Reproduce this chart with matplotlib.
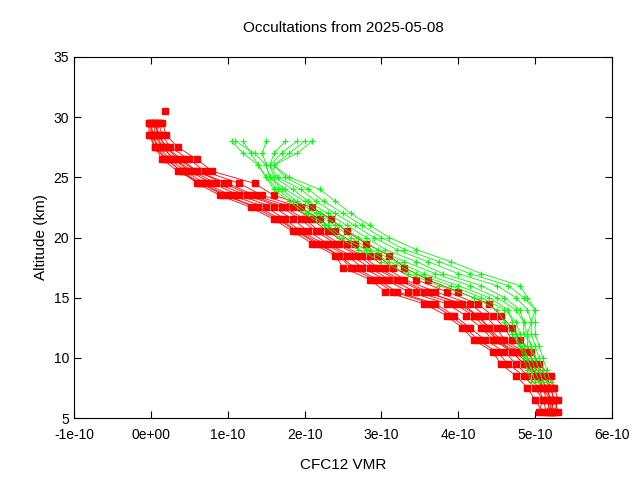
import matplotlib
matplotlib.use("Agg")
import matplotlib.pyplot as plt
import numpy as np

plt.rcParams["font.family"] = "Liberation Sans"

# altitude grids (km)
red_alt = [5.5,6.5,7.5,8.5,9.5,10.5,11.5,12.5,13.5,14.5,15.5,16.5,17.5,18.5,19.5,20.5,21.5,22.5,23.5,24.5,25.5,26.5,27.5,28.5,29.5]
# red profiles, VMR in units of 1e-10
red_profiles = [
 [5.10,5.00,4.90,4.75,4.55,4.45,4.20,4.05,3.85,3.55,3.05,2.85,2.50,2.40,2.10,1.85,1.60,1.30,0.90,0.60,0.40,0.20,0.05,-0.02,-0.03],
 [5.25,5.30,5.25,5.20,5.05,4.95,4.80,4.70,4.55,4.40,4.00,3.60,3.30,3.10,2.80,2.55,2.35,2.10,1.60,1.35,0.80,0.60,0.35,0.20,0.15],
 [5.15,5.20,5.10,5.00,4.85,4.70,4.45,4.30,4.10,3.85,3.35,3.05,2.75,2.55,2.25,1.95,1.75,1.50,1.05,0.70,0.45,0.25,0.10,0.03,0.00],
 [5.20,5.25,5.20,5.10,4.95,4.85,4.60,4.50,4.35,4.15,3.70,3.30,3.05,2.85,2.55,2.30,2.10,1.85,1.35,1.00,0.60,0.40,0.20,0.10,0.05],
 [5.05,5.10,5.05,4.90,4.75,4.60,4.35,4.15,3.95,3.70,3.20,2.95,2.65,2.45,2.20,1.90,1.70,1.40,0.95,0.65,0.35,0.15,0.05,0.00,-0.02],
 [5.25,5.20,5.15,5.05,4.90,4.80,4.55,4.40,4.25,4.05,3.55,3.20,2.90,2.70,2.40,2.15,1.95,1.70,1.25,0.85,0.55,0.30,0.15,0.05,0.05],
 [5.20,5.15,5.10,5.05,4.90,4.75,4.50,4.35,4.20,3.95,3.45,3.10,2.85,2.60,2.30,2.05,1.85,1.60,1.15,0.80,0.50,0.30,0.15,0.08,0.10],
 [5.30,5.25,5.20,5.15,5.00,4.90,4.70,4.60,4.45,4.25,3.85,3.45,3.15,2.95,2.65,2.40,2.20,1.95,1.45,1.15,0.70,0.50,0.25,0.15,0.10],
 [5.15,5.10,5.00,4.85,4.65,4.50,4.25,4.10,3.90,3.65,3.15,2.90,2.60,2.45,2.15,1.90,1.65,1.35,1.00,0.65,0.40,0.20,0.08,0.02,0.00],
 [5.20,5.20,5.15,5.05,4.85,4.70,4.50,4.40,4.25,4.00,3.60,3.25,2.95,2.75,2.45,2.20,2.00,1.75,1.30,0.95,0.60,0.35,0.20,0.10,0.05],
]
red_top_alt = 30.5
red_top_val = 0.18

green_alt = [8,9,10,11,12,13,14,15,16,17,18,19,20,21,22,23,24,25,26,27,28]
green_profiles = [
 [5.10,5.05,5.00,4.95,4.90,4.95,5.00,4.90,4.80,4.30,3.90,3.45,3.10,2.85,2.60,2.40,2.20,1.80,1.60,1.80,2.00],
 [5.00,4.95,4.90,4.80,4.70,4.60,4.50,4.20,3.75,3.35,3.00,2.70,2.45,2.25,2.00,1.80,1.60,1.50,1.40,1.30,1.20],
 [5.15,5.10,5.05,5.00,4.95,4.95,4.90,4.75,4.50,4.00,3.60,3.20,2.90,2.65,2.40,2.15,1.95,1.65,1.55,1.70,1.90],
 [4.95,4.90,4.85,4.80,4.75,4.70,4.65,4.40,4.00,3.55,3.20,2.85,2.60,2.40,2.15,1.90,1.70,1.55,1.50,1.35,1.10],
 [5.05,5.00,4.95,4.95,4.85,4.85,4.80,4.60,4.30,3.80,3.45,3.05,2.80,2.55,2.30,2.05,1.85,1.60,1.55,1.60,1.75],
 [5.10,5.05,5.00,4.90,4.90,4.85,4.75,4.50,4.15,3.70,3.30,2.95,2.70,2.45,2.20,2.00,1.75,1.55,1.50,1.45,1.50],
 [5.00,4.95,4.90,4.85,4.80,4.75,4.60,4.30,3.90,3.45,3.10,2.80,2.50,2.30,2.05,1.85,1.65,1.50,1.40,1.20,1.05],
 [5.20,5.15,5.10,5.05,5.00,5.00,5.00,4.85,4.65,4.15,3.75,3.30,3.00,2.75,2.50,2.25,2.05,1.75,1.60,1.90,2.10],
]

fig = plt.figure(figsize=(6.4, 4.8), dpi=100)
ax = fig.add_axes([74/640, 1-418/480, (612-74)/640, (418-57)/480])

for p in red_profiles:
    ax.plot(np.array(p)*1e-10, red_alt, color="#ff0000", lw=0.6, marker="s", ms=4, mec="#ff0000", mfc="#ff0000")
ax.plot([red_top_val*1e-10], [red_top_alt], color="#ff0000", marker="s", ms=4, ls="none")
for p in green_profiles:
    ax.plot(np.array(p)*1e-10, green_alt, color="#00ff00", lw=0.6, marker="+", ms=5, mew=0.8)

ax.set_xlim(-1e-10, 6e-10)
ax.set_ylim(5, 35)
xt = [-1e-10, 0, 1e-10, 2e-10, 3e-10, 4e-10, 5e-10, 6e-10]
xl = ["-1e-10", "0e+00", "1e-10", "2e-10", "3e-10", "4e-10", "5e-10", "6e-10"]
ax.set_xticks(xt, xl)
ax.set_yticks(range(5, 36, 5))
ax.tick_params(direction="in", top=True, right=True, labelsize=10, length=5)
ax.tick_params(axis="x", pad=7)
ax.set_xlabel("CFC12 VMR", fontsize=11, labelpad=12)
ax.set_ylabel("Altitude (km)", fontsize=11)
ax.set_title("Occultations from 2025-05-08", fontsize=11, pad=18)
fig.savefig("out.png", dpi=100)
